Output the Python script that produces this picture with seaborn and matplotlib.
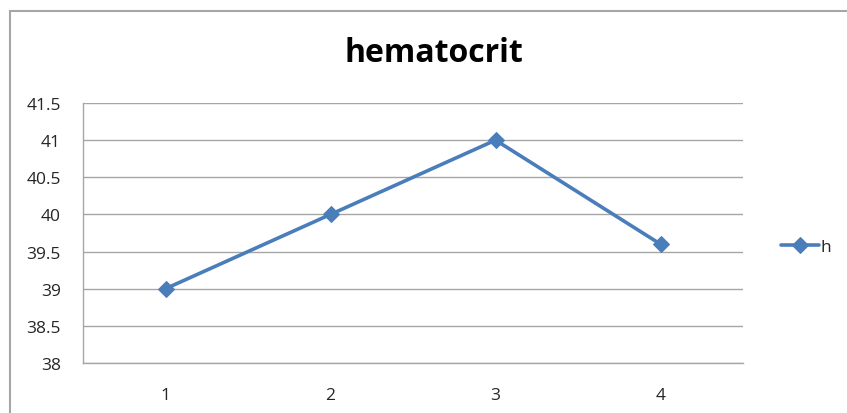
import matplotlib
matplotlib.use("Agg")
import matplotlib.pyplot as plt
import pandas as pd
import seaborn as sns
from matplotlib.patches import Rectangle

# data
samples = [1, 2, 3, 4]
hematocrit = [39.0, 40.0, 41.0, 39.6]
y_ticks = [38, 38.5, 39, 39.5, 40, 40.5, 41, 41.5]
y_labels = ["38", "38.5", "39", "39.5", "40", "40.5", "41", "41.5"]

LINE_COLOR = "#4a7ebb"
GRID_COLOR = "#a6a6a6"
TEXT_COLOR = "#262626"

sns.set_style("white")
plt.rcParams["font.family"] = ["Open Sans", "DejaVu Sans"]

df = pd.DataFrame({"sample": samples, "h": hematocrit})

fig = plt.figure(figsize=(8.47, 4.14), dpi=100)
ax = fig.add_axes([83 / 847, 50 / 414, 660 / 847, 260 / 414])

sns.lineplot(
    data=df, x="sample", y="h", ax=ax,
    color=LINE_COLOR, linewidth=2.6,
    marker="D", markersize=8, markeredgecolor=LINE_COLOR,
    label="h",
)

ax.set_xlim(0.5, 4.5)
ax.set_ylim(38, 41.5)
ax.set_yticks(y_ticks)
ax.set_yticklabels(y_labels)
ax.set_xticks(samples)
ax.set_xticklabels([str(s) for s in samples])
ax.set_xticks([0.5, 1.5, 2.5, 3.5, 4.5], minor=True)
ax.tick_params(axis="x", which="major", length=0, pad=17, labelsize=12.5, labelcolor=TEXT_COLOR)
ax.tick_params(axis="x", which="minor", length=5, color=GRID_COLOR, direction="out")
ax.tick_params(axis="y", length=5, color=GRID_COLOR, direction="out", pad=11,
               labelsize=12.5, labelcolor=TEXT_COLOR)
ax.grid(True, axis="y", color=GRID_COLOR, linewidth=1.0)
ax.set_axisbelow(True)
ax.set_xlabel("")
ax.set_ylabel("")
for side in ["top", "right"]:
    ax.spines[side].set_visible(False)
for side in ["left", "bottom"]:
    ax.spines[side].set_color(GRID_COLOR)
    ax.spines[side].set_linewidth(1.0)

# chart title is centred on the whole chart area, not the plot area
fig.text(434 / 847, 1 - 53 / 414, "hematocrit", ha="center", va="center",
         fontsize=23, fontweight="bold", color="black")

ax.legend(
    loc="center left", bbox_to_anchor=(774 / 847, 1 - 248 / 414),
    bbox_transform=fig.transFigure, frameon=False, fontsize=12.5,
    handlelength=2.2, handletextpad=0.1, borderaxespad=0,
)

# outer chart border (Excel chart area frame)
fig.patches.append(Rectangle((10 / 847, -0.1), 2.0, 1 - 12 / 414 + 0.1,
                             transform=fig.transFigure, fill=False,
                             edgecolor="#a6a6a6", linewidth=1.5))

fig.savefig("out.png", dpi=100)
